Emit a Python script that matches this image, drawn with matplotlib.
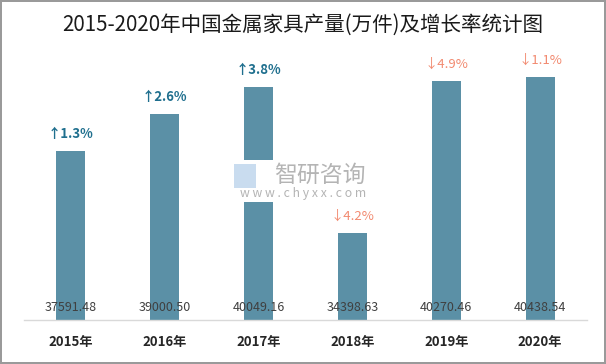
import matplotlib.pyplot as plt
import matplotlib.patches as mpatches

plt.rcParams['font.family'] = ['Noto Sans CJK SC', 'DejaVu Sans']

# 数据
years = ['2015年', '2016年', '2017年', '2018年', '2019年', '2020年']
output = [37591.48, 39000.50, 40049.16, 34398.63, 40270.46, 40438.54]
growth = [1.3, 2.6, 3.8, -4.2, -4.9, -1.1]

BAR_COLOR = '#5b90a6'
UP_COLOR = '#1f6f8e'
DOWN_COLOR = '#f28a70'

fig = plt.figure(figsize=(6.06, 3.64), dpi=100)
fig.patch.set_edgecolor('#9a9a9a')
fig.patch.set_linewidth(1.5)

ax = fig.add_axes([24 / 606, 44 / 364, 563 / 606, 275 / 364])
x = range(len(years))
ax.bar(x, output, width=0.31, color=BAR_COLOR, zorder=2)
ax.set_xlim(-0.5, len(years) - 0.5)
ax.set_ylim(31030, 31030 + 275 / 0.02583)

# 坐标轴样式
for s in ['top', 'right', 'left']:
    ax.spines[s].set_visible(False)
ax.spines['bottom'].set_color('#d9d9d9')
ax.spines['bottom'].set_linewidth(1)
ax.set_yticks([])
ax.set_xticks(list(x))
ax.set_xticklabels(years, fontsize=9.5, fontweight='bold', color='#262626')
ax.tick_params(axis='x', length=0, pad=11)

# 数值标签（柱内底部）
for i, v in enumerate(output):
    ax.annotate(f'{v:.2f}', (i, ax.get_ylim()[0]), xytext=(0, 9),
                textcoords='offset points', ha='center', va='center',
                fontsize=9, color='#404040', zorder=3)

# 增长率标签
for i, (v, g) in enumerate(zip(output, growth)):
    if g >= 0:
        txt, col, fw = f'↑{g:.1f}%', UP_COLOR, 'bold'
    else:
        txt, col, fw = f'↓{abs(g):.1f}%', DOWN_COLOR, 'normal'
    ax.annotate(txt, (i, v), xytext=(0, 12), textcoords='offset points',
                ha='center', va='center', fontsize=9.5, color=col,
                fontweight=fw, zorder=3)

# 标题
fig.text(0.5, 1 - 25 / 364, '2015-2020年中国金属家具产量(万件)及增长率统计图',
         ha='center', va='center', fontsize=14.8, color='#1a1a1a')

# 水印
fig.patches.append(mpatches.Rectangle((230 / 606, 1 - 202 / 364), 148 / 606, 42 / 364,
                                      transform=fig.transFigure, facecolor='white',
                                      edgecolor='none', zorder=5))
fig.patches.append(mpatches.Rectangle((234 / 606, 1 - 188 / 364), 22 / 606, 24 / 364,
                                      transform=fig.transFigure, facecolor='#c9dcef',
                                      edgecolor='none', zorder=6))
fig.text(320 / 606, 1 - 175 / 364, '智研咨询', ha='center', va='center',
         fontsize=16.5, color='#b4b4b4', zorder=7)
fig.text(303 / 606, 1 - 193 / 364, 'w w w . c h y x x . c o m', ha='center',
         va='center', fontsize=8.8, color='#b4b4b4', zorder=7)

fig.savefig('out.png', dpi=100, edgecolor=fig.get_edgecolor())
